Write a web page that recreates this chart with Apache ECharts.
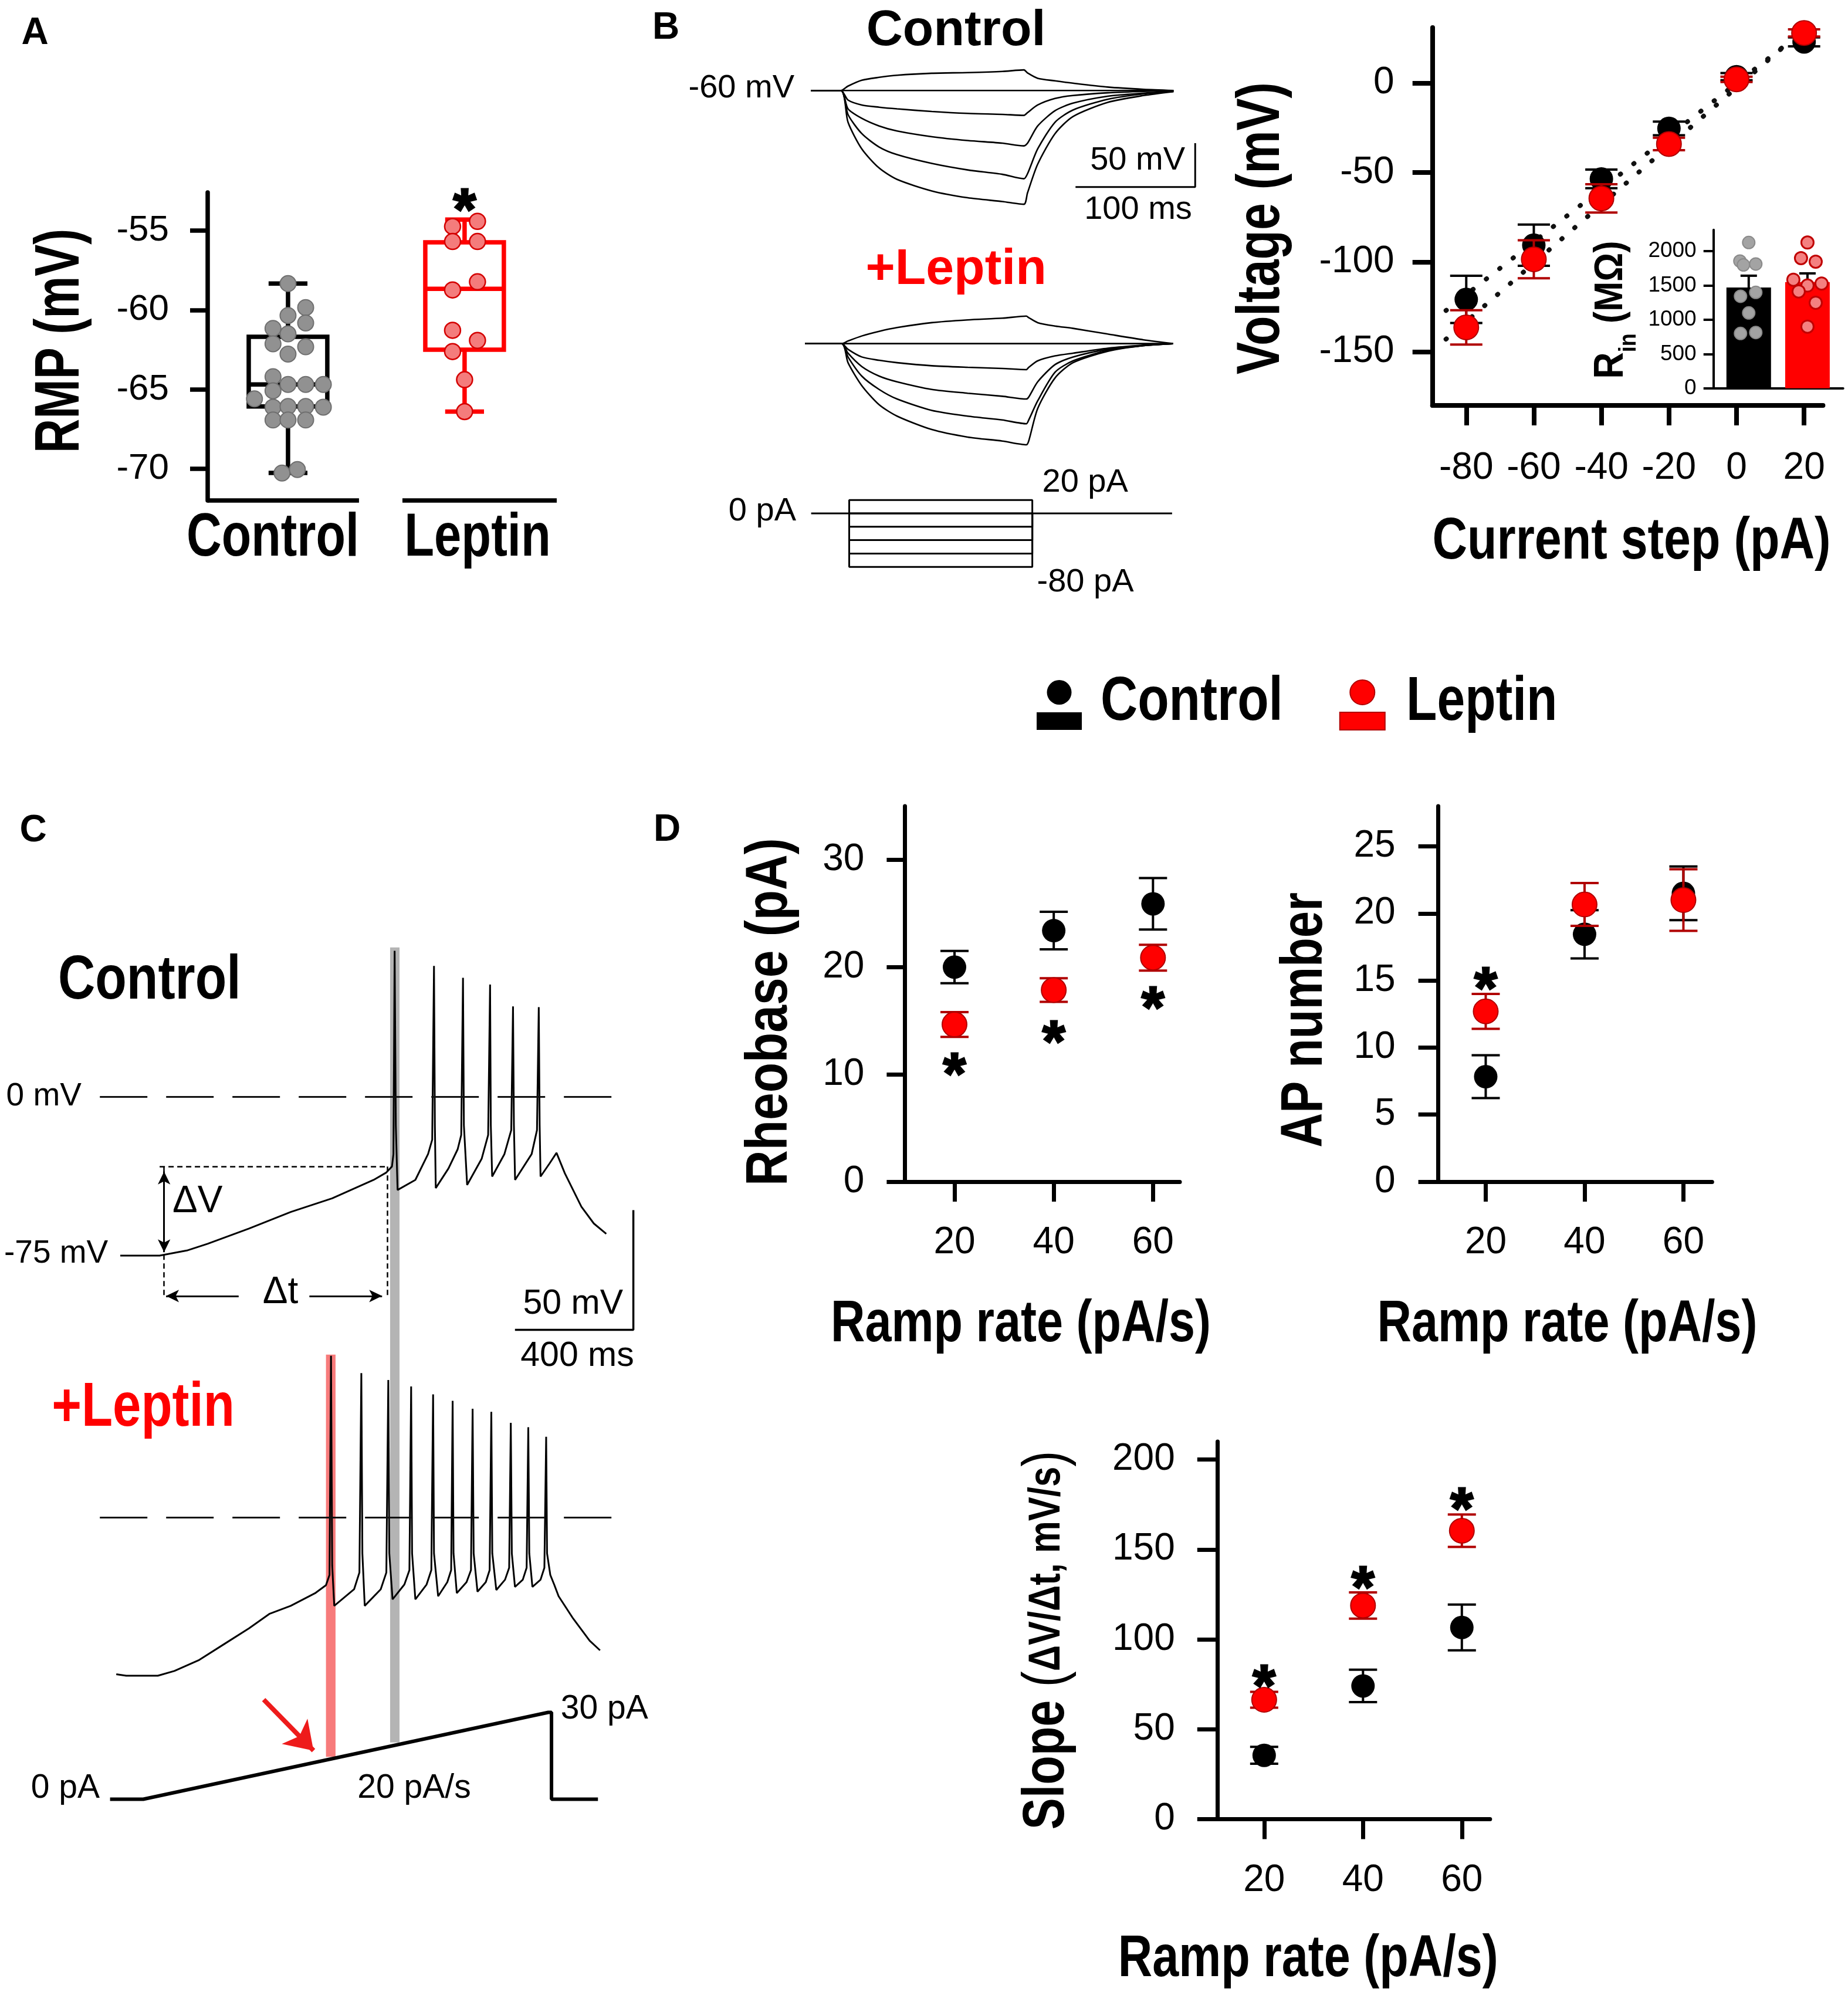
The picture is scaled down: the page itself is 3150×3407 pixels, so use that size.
<!DOCTYPE html>
<html><head><meta charset="utf-8">
<script src="https://cdn.jsdelivr.net/npm/echarts@6/dist/echarts.min.js"></script>
<style>html,body{margin:0;padding:0;background:#fff}#c{width:3150px;height:3407px}</style>
</head><body><div id="c"></div>
<script>
const SANS = '"Liberation Sans", Arial, Helvetica, sans-serif';
const RED = '#ff0000', DARKRED = '#b00000';

// ---------------- Panel A : RMP ----------------
const rmpCategories = ['Control', 'Leptin'];
const rmpBoxControl = [-70.26, -66.08, -64.69, -61.69, -58.34]; // min, Q1, median, Q3, max
const rmpBoxLeptin = [-66.4, -62.5, -58.67, -55.74, -54.31];
const rmpControl = [-58.34,-59.85,-60.35,-60.82,-61.16,-61.51,-62.13,-62.32,-62.78,-64.2,-65.09,-64.69,-64.69,-64.69,-65.6,-66.12,-66.08,-66.08,-66.12,-66.93,-66.93,-66.93,-70.27,-70.05];
const rmpControlJitter = [0,0.1,0,0.1,-0.085,0,-0.085,0.1,0,-0.085,-0.085,0,0.1,0.2,-0.19,-0.085,0,0.1,0.2,-0.085,0,0.1,-0.034,0.053];
const rmpLeptin = [-54.42,-54.74,-55.69,-55.69,-58.23,-58.74,-61.28,-61.92,-62.62,-64.39,-66.4];
const rmpLeptinJitter = [0.073,-0.068,-0.068,0.073,0.073,-0.068,-0.068,0.073,-0.068,0,0];
const rmpSignificance = [[1, -53.08]];

// ---------------- Panel B : sample traces ----------------
const bTimeControl = [0, 25, 31, 42.5, 57, 72, 101, 131, 160, 178, 181, 189.5, 204, 219, 248, 278, 303];
const bControlP20 = [0, 0, 5, 11.7, 15, 17.4, 19.6, 20.4, 21.7, 23.5, 20, 13.9, 11, 8.3, 3.9, 1.3, 0];
const bControl0   = [0, 0, 0, 0, 0, 0, 0, 0, 0, 0, 0, 0, 0, 0, 0, 0, 0];
const bControlM20 = [0, 0, -10.9, -16.5, -19, -20.9, -23.9, -26.1, -27.2, -28.3, -25.2, -16.5, -9.1, -5.7, -2.6, -1, 0];
const bControlM40 = [0, 0, -20.9, -31.7, -40.4, -46.1, -52.6, -57, -60, -63.1, -60, -40.4, -23, -14.4, -6.5, -3, -0.9];
const bControlM60 = [0, 0, -27.4, -49.1, -64.4, -73.1, -83.1, -90.5, -95.5, -100.5, -94.8, -66.5, -36.1, -22.2, -10, -3.9, -0.9];
const bControlM80 = [0, 0, -36.1, -66.5, -88.3, -101.3, -114.4, -122.2, -126.5, -129.6, -116.6, -83.9, -49.1, -29.6, -13.5, -5.7, -1.3];
const bTimeLeptin = [-5, 25.7, 31, 42.5, 57, 72, 101, 131, 160, 180, 182, 189.5, 204, 219, 248, 278, 302.5];
const bLeptinP20 = [0, 0, 3, 8.7, 14, 18.3, 23.9, 27, 29, 31.3, 29.6, 23.9, 20, 17.4, 10.9, 4.3, 0];
const bLeptin0   = [0, 0, 0, 0, 0, 0, 0, 0, 0, 0, 0, 0, 0, 0, 0, 0, 0];
const bLeptinM20 = [0, 0, -6.5, -15.2, -19, -21.7, -25.2, -27, -28.3, -29.6, -27, -19.6, -14, -10.9, -5.2, -1.7, 0];
const bLeptinM40 = [0, 0, -10.9, -26.1, -37, -43.5, -52.2, -56.5, -60, -63.1, -60.9, -43.5, -23.9, -15.2, -6.5, -2.2, 0];
const bLeptinM60 = [0, 0, -15.2, -37, -52.2, -63.1, -76.1, -82.6, -87, -91.3, -87, -65.2, -32.6, -19.6, -7.8, -2.2, 0];
const bLeptinM80 = [0, 0, -21.7, -47.8, -69.6, -82.6, -97.9, -106.5, -111, -115.2, -110.9, -73.9, -39.1, -21.7, -8.7, -2.2, 0];
const bStepLevels = [20, 0, -20, -40, -60, -80];   // pA
const bStepOnOff = [32, 185];                       // ms
const bProtocolSpan = [0.2, 301.8];                 // ms
const bScaleBar = [100, 50];                        // ms, mV

// ---------------- Panel B : I-V and R_in ----------------
const ivSteps = [-80, -60, -40, -20, 0, 20];
const ivControlMean = [-120.8, -90.5, -53.5, -25.3, 3.6, 23];
const ivControlSem = [13.2, 11.5, 5.2, 3.8, 2, 2.5];
const ivLeptinMean = [-136.4, -98.4, -64.4, -34, 2.1, 28];
const ivLeptinSem = [9.6, 10.6, 7.9, 3.5, 1.5, 2];
const ivFitControl = [[-86, -127], [15, 22]];
const ivFitLeptin = [[-86, -143], [15, 22]];
const rinGroups = ['Control', 'Leptin'];
const rinMean = [1471, 1551];
const rinSem = [172, 126];
const rinControl = [2128, 1857, 1800, 1814, 1343, 1400, 1100, 800, 814];
const rinControlJitter = [0, -0.15, -0.09, 0.12, -0.14, 0.12, 0, -0.14, 0.12];
const rinLeptin = [2128, 1900, 1848, 1585, 1500, 1529, 1414, 1249, 900];
const rinLeptinJitter = [0, -0.11, 0.14, -0.24, 0, 0.24, -0.15, 0.14, 0];

// ---------------- Panel C : ramp traces ----------------
const cControlTrace = [[0,-66.4],[133,-66.4],[225,-64.3],[295,-61.5],[435,-55.1],[576,-48.2],[716,-42.5],[856,-34.8],[899,-31.7],[918,-29.2],[923,-24],[927,60.9],[931,-12],[937,-39],[997,-34.8],[1040,-24],[1054,-18],[1060,54.6],[1063,-12],[1066,-38.2],[1109,-30],[1140,-22],[1152,-16],[1158,49.6],[1161,-12],[1172,-36.9],[1221,-26],[1243,-16],[1249.5,46.8],[1252,-12],[1256.5,-33.4],[1298,-24],[1321,-14],[1327,37.7],[1330,-12],[1334,-34.8],[1390,-24],[1408,-14],[1414,37.4],[1417,-12],[1420,-33.4],[1450,-28],[1474,-23.5],[1502,-32],[1558,-46],[1600,-53],[1642,-57.3]];
const cLeptinTrace = [[-13.5,-65.5],[20,-66.1],[127,-66.1],[183,-64.1],[267,-59.5],[351,-52.9],[435,-46.3],[505,-40.2],[576,-36.9],[660,-31.5],[695,-28.3],[707,-24],[712,67.5],[716,-20],[723,-36.9],[790,-30],[808,-23],[814.5,60.3],[818,-15],[826,-36.9],[880,-30],[899,-23],[905.6,57.4],[909,-15],[920,-34.2],[960,-28],[977,-22],[982.8,54.7],[986,-15],[997,-34.2],[1035,-28],[1051,-22],[1057,51.4],[1060,-15],[1074,-32.9],[1105,-27],[1118,-22],[1123,48.7],[1126,-15],[1137,-31.6],[1170,-27],[1185,-22],[1190.5,45.4],[1194,-15],[1207,-31],[1235,-27],[1248,-22],[1253.7,44.1],[1257,-15],[1270.5,-30.3],[1300,-26],[1314,-21],[1319.5,39.5],[1323,-15],[1333.6,-29],[1360,-26],[1373,-21],[1378.6,37.7],[1382,-15],[1392.5,-29],[1420,-26],[1433,-21],[1439,33.7],[1442,-15],[1453,-24],[1466,-28],[1481,-32.9],[1530,-42.2],[1586,-51.5],[1621,-55.5]];
const cRamp = [[-34.5,0],[77.7,0],[1446,30],[1457,30],[1457,0],[1614,0]];
const cScaleBar = [400, 50];   // ms, mV
const cThresholdControl = [911.7, 943.5];  // ms window (grey)
const cThresholdLeptin = [695, 727.3];     // ms window (red)

// ---------------- Panel D ----------------
const rampRates = [20, 40, 60];
const rheoControlMean = [20.0, 23.4, 25.9], rheoControlSem = [1.5, 1.75, 2.4];
const rheoLeptinMean = [14.65, 17.86, 20.88], rheoLeptinSem = [1.15, 1.1, 1.2];
const apControlMean = [7.83, 18.45, 21.5], apControlSem = [1.6, 1.8, 2.0];
const apLeptinMean = [12.7, 20.67, 21.0], apLeptinSem = [1.3, 1.6, 2.3];
const slopeControlMean = [35.5, 74.1, 106.6], slopeControlSem = [4.7, 9, 12.7];
const slopeLeptinMean = [66.4, 118.8, 160.4], slopeLeptinSem = [4.4, 7.3, 9];
const rheoSignificance = [[20, 10.9], [40, 13.9], [60, 17.1]];
const apSignificance = [[20, 15.1]];
const slopeSignificance = [[20, 79.2], [40, 134], [60, 177.7]];

// ================= helpers =================
const pairs = (xs, ys) => xs.map((x, i) => [x, ys[i]]);
function errBars(gi, xs, means, sems, color, cap, lw, z) {
  return {type:'custom', name:'err', xAxisIndex:gi, yAxisIndex:gi, z, silent:true, animation:false,
    data: xs.map((x,i)=>[x, means[i], sems[i]]), encode:{x:0, y:1},
    renderItem(params, api){
      const x=api.value(0), m=api.value(1), s=api.value(2);
      const t=api.coord([x,m+s]), b=api.coord([x,m-s]);
      const st={stroke:color, lineWidth:lw};
      return {type:'group', children:[
        {type:'line', shape:{x1:t[0],y1:t[1],x2:b[0],y2:b[1]}, style:st},
        {type:'line', shape:{x1:t[0]-cap/2,y1:t[1],x2:t[0]+cap/2,y2:t[1]}, style:st},
        {type:'line', shape:{x1:b[0]-cap/2,y1:b[1],x2:b[0]+cap/2,y2:b[1]}, style:st}]};
    }};
}
function dots(name, gi, xs, ys, size, color, border, bw, z) {
  return {type:'scatter', name, xAxisIndex:gi, yAxisIndex:gi, z, silent:true, animation:false,
    data: pairs(xs, ys), symbol:'circle', symbolSize:size,
    itemStyle:{color, borderColor:border, borderWidth:bw, opacity:1}};
}
function stars(gi, pts, size) {
  return {type:'custom', name:'sig', xAxisIndex:gi, yAxisIndex:gi, z:10, silent:true, animation:false,
    data: pts, encode:{x:0, y:1},
    renderItem(params, api){
      const p = api.coord([api.value(0), api.value(1)]);
      return {type:'text', x:p[0], y:p[1] + size*0.22, style:{text:'*', fontSize:size, fontFamily:SANS, fontWeight:'bold',
        fill:'#000', stroke:'#000', lineWidth:3, align:'center', verticalAlign:'middle'}};
    }};
}
function trace(gi, data, width, smooth, extra) {
  return Object.assign({type:'line', name:'trace', xAxisIndex:gi, yAxisIndex:gi, data, symbol:'none', showSymbol:false,
    silent:true, animation:false, smooth: smooth||false, clip:false, lineStyle:{color:'#000', width: width||2.5}, z:3}, extra||{});
}
function hiddenAxis(gi, min, max) { return {gridIndex:gi, type:'value', min, max, show:false}; }
function xAxisShown(gi, min, max, ticks, o) {
  return {gridIndex:gi, type:'value', min, max, splitLine:{show:false},
    axisLine:{show:true, onZero:false, lineStyle:{color:'#000', width:o.lw}},
    axisTick:{show:true, customValues:ticks, length:o.tick, lineStyle:{color:'#000', width:o.lw}},
    axisLabel:{show:true, customValues:ticks, fontFamily:SANS, fontSize:o.fs, color:'#000', margin:o.margin, formatter: v => String(v)}};
}
function yAxisShown(gi, min, max, ticks, o) {
  return {gridIndex:gi, type:'value', min, max, splitLine:{show:false},
    axisLine:{show:true, onZero:false, lineStyle:{color:'#000', width:o.lw}},
    axisTick:{show:true, customValues:ticks, length:o.tick, lineStyle:{color:'#000', width:o.lw}},
    axisLabel:{show:true, customValues:ticks, fontFamily:SANS, fontSize:o.fs, color:'#000', margin:o.margin, formatter: v => String(v)}};
}
function T(x, y, text, size, o) {
  o = o || {};
  return {type:'text', x, y, z:100, silent:true, style:{text, fontSize:size, fontFamily:SANS,
    fontWeight:o.bold?'bold':'normal', fill:o.color||'#000', align:o.align||'center', verticalAlign:'middle'}};
}
// condensed bold title text (horizontally compressed Liberation Sans Bold)
const ROT = Math.PI / 2;
function TN(x, y, text, size, o) {
  o = o || {};
  const st = {text, fontSize:size, fontFamily:SANS, fontWeight:'bold', fill:o.color||'#000', align:o.align||'center', verticalAlign:'middle'};
  if (o.rich) st.rich = o.rich;
  return {type:'text', x, y, rotation:o.rot||0, scaleX:o.sx||0.81, scaleY:1, z:100, silent:true, style:st};
}

// ================= grids =================
const gridBoxes = [
  [354, 328, 595, 525],        // 0 A
  [1370, 94.4, 685.4, 269.3],  // 1 B control traces
  [1370, 525.8, 685.4, 269.3], // 2 B leptin traces
  [1370, 829.4, 685.4, 159.6], // 3 B protocol
  [2441.7, 47, 665.7, 644],    // 4 B I-V
  [2920.7, 391.7, 221, 270],   // 5 B R_in inset
  [170.2, 1603.8, 922.7, 693.6], // 6 C control
  [170.2, 2296.6, 922.7, 697.7], // 7 C leptin
  [170.2, 2888.9, 922.7, 187.5], // 8 C ramp
  [1542.4, 1374, 468.6, 640],  // 9 D rheobase
  [2451.6, 1374, 466.7, 640],  // 10 D AP number
  [2074.8, 2456.9, 465, 643.6] // 11 D slope
];
const grid = gridBoxes.map(b => ({left:b[0], top:b[1], width:b[2], height:b[3], show:false, containLabel:false, outerBoundsMode:'none'}));

const xAxis = [
  {gridIndex:0, type:'value', min:-0.455, max:1.522, splitLine:{show:false}, axisLine:{show:false, onZero:false}, axisTick:{show:false}, axisLabel:{show:false}},
  hiddenAxis(1, -6, 330), hiddenAxis(2, -6, 330), hiddenAxis(3, -6, 330),
  xAxisShown(4, -90, 25.6, ivSteps, {lw:8, tick:34, fs:64, margin:75}),
  {gridIndex:5, type:'value', min:0.4, max:2.607, splitLine:{show:false}, axisLine:{show:true, onZero:false, lineStyle:{color:'#000', width:4}}, axisTick:{show:false}, axisLabel:{show:false}},
  hiddenAxis(6, -69, 1760), hiddenAxis(7, -69, 1760), hiddenAxis(8, -69, 1760),
  xAxisShown(9, 10, 65.4, rampRates, {lw:7, tick:34, fs:64, margin:72}),
  xAxisShown(10, 10.4, 65.8, rampRates, {lw:7, tick:34, fs:64, margin:72}),
  xAxisShown(11, 10.5, 65.7, rampRates, {lw:7, tick:34, fs:64, margin:73})
];
const yAxis = [
  yAxisShown(0, -72, -52.6, [-70,-65,-60,-55], {lw:7.5, tick:30, fs:62, margin:66}),
  hiddenAxis(1, -140, 40), hiddenAxis(2, -140, 40), hiddenAxis(3, -100, 40),
  yAxisShown(4, -180, 31, [-150,-100,-50,0], {lw:8, tick:34, fs:64, margin:65}),
  yAxisShown(5, 0, 2313, [0,500,1000,1500,2000], {lw:4, tick:17, fs:37, margin:29}),
  hiddenAxis(6, -105, 65), hiddenAxis(7, -100, 71), hiddenAxis(8, -2, 36),
  yAxisShown(9, 0, 35, [0,10,20,30], {lw:7, tick:31, fs:64, margin:69}),
  yAxisShown(10, 0, 28, [0,5,10,15,20,25], {lw:7, tick:34, fs:64, margin:73}),
  yAxisShown(11, 0, 210, [0,50,100,150,200], {lw:7, tick:34, fs:64, margin:72})
];

// ================= series =================
const series = [];
// ---- IV ----
series.push(trace(4, ivFitControl, 8, false, {lineStyle:{color:'#111', width:8, type:[1,28], cap:'round'}, z:2}));
series.push(trace(4, ivFitLeptin, 8, false, {lineStyle:{color:'#111', width:8, type:[1,28], cap:'round'}, z:2}));
series.push(errBars(4, ivSteps, ivControlMean, ivControlSem, '#000', 55, 4, 3));
series.push(dots('Control', 4, ivSteps, ivControlMean, 40, '#000', '#000', 0, 4));
series.push(errBars(4, ivSteps, ivLeptinMean, ivLeptinSem, DARKRED, 55, 4, 5));
series.push(dots('Leptin', 4, ivSteps, ivLeptinMean, 42, RED, DARKRED, 2, 6));

// ---- A ----
series.push(trace(0, [[-0.455, -72], [0.402, -72]], 7.5, false, {z:2}));
series.push(trace(0, [[0.648, -72], [1.522, -72]], 7.5, false, {z:2}));
series.push({type:'custom', name:'rmpBox', xAxisIndex:0, yAxisIndex:0, z:2, silent:true, animation:false,
  data:[[0].concat(rmpBoxControl), [1].concat(rmpBoxLeptin)], encode:{x:0, y:[1,2,3,4,5]},
  renderItem(params, api){
    const x = api.value(0), c = x === 0 ? '#000' : RED;
    const p = k => api.coord([x, api.value(k)]);
    const lo=p(1), q1=p(2), med=p(3), q3=p(4), hi=p(5);
    const bw = api.size([0.445, 0])[0], cw = api.size([0.22, 0])[0], cx = lo[0];
    const st = {stroke:c, lineWidth:7.5, fill:'none'};
    const L = (x1,y1,x2,y2) => ({type:'line', shape:{x1,y1,x2,y2}, style:st});
    return {type:'group', children:[
      L(cx, q3[1], cx, hi[1]), L(cx, q1[1], cx, lo[1]),
      L(cx-cw/2, hi[1], cx+cw/2, hi[1]), L(cx-cw/2, lo[1], cx+cw/2, lo[1]),
      {type:'rect', shape:{x:cx-bw/2, y:q3[1], width:bw, height:q1[1]-q3[1]}, style:st},
      L(cx-bw/2, med[1], cx+bw/2, med[1])]};
  }});
series.push(dots('rmpC', 0, rmpControlJitter.map(j => 0 + j), rmpControl, 27, '#919191', '#6f6f6f', 2, 5));
series.push(dots('rmpL', 0, rmpLeptinJitter.map(j => 1 + j), rmpLeptin, 27, '#f47c7c', '#d40000', 2.5, 5));
series.push(stars(0, rmpSignificance, 100));

// ---- B traces ----
[bControlP20, bControl0, bControlM20, bControlM40, bControlM60, bControlM80].forEach(v =>
  series.push(trace(1, pairs(bTimeControl, v), 2.6, 0.25)));
[bLeptinP20, bLeptin0, bLeptinM20, bLeptinM40, bLeptinM60, bLeptinM80].forEach(v =>
  series.push(trace(2, pairs(bTimeLeptin, v), 2.6, 0.25)));
series.push(trace(1, [[221.1, -110], [221.1 + bScaleBar[0], -110], [221.1 + bScaleBar[0], -110 + bScaleBar[1]]], 3));
series.push(trace(3, [[bProtocolSpan[0], 0], [bProtocolSpan[1], 0]], 3));
bStepLevels.forEach(L => series.push(trace(3, [[bStepOnOff[0], 0], [bStepOnOff[0], L], [bStepOnOff[1], L], [bStepOnOff[1], 0]], 3)));

// ---- inset R_in ----
series.push(errBars(5, [1, 2], rinMean, rinSem, '#000', 28, 4, 1));
series.push({type:'bar', name:'rin', xAxisIndex:5, yAxisIndex:5, barWidth:76, z:2, silent:true, animation:false,
  data: rinGroups.map((g, i) => ({value:[i + 1, rinMean[i]], itemStyle:{color: i ? RED : '#000'}}))});
series.push(dots('rinC', 5, rinControlJitter.map(j => 1 + j), rinControl, 21, '#a3a3a3', '#8a8a8a', 2, 4));
series.push(dots('rinL', 5, rinLeptinJitter.map(j => 2 + j), rinLeptin, 21, '#f48080', '#c00000', 3, 4));

// ---- C ----
const dash0 = {type:[81, 32], width:3, color:'#111'};
series.push(trace(6, cControlTrace, 3, false, {
  markArea:{silent:true, itemStyle:{color:'#b4b4b4', opacity:1},
    data:[[{xAxis:cThresholdControl[0], yAxis:62.3}, {xAxis:cThresholdControl[1], yAxis:-105}]]},
  markLine:{silent:true, animation:false, symbol:'none', label:{show:false},
    lineStyle:{color:'#000', width:2.5, type:[9, 6]}, itemStyle:{color:'#000'},
    data:[
      [{coord:[-69, 0], lineStyle:dash0}, {coord:[1677, 0]}],
      [{coord:[133, -29.2]}, {coord:[906, -29.2]}],
      [{coord:[148, -29.2]}, {coord:[148, -84]}],
      [{coord:[901.5, -29.2]}, {coord:[901.5, -84]}],
      [{coord:[148, -31.3], symbol:'arrow', symbolSize:[16, 22], lineStyle:{type:'solid', width:3, color:'#000'}}, {coord:[148, -65], symbol:'arrow', symbolSize:[16, 22]}],
      [{coord:[154.6, -83.3], symbol:'arrow', symbolSize:[16, 22], lineStyle:{type:'solid', width:3, color:'#000'}}, {coord:[400, -83.3], symbol:'none'}],
      [{coord:[639, -83.3], symbol:'none', lineStyle:{type:'solid', width:3, color:'#000'}}, {coord:[884.6, -83.3], symbol:'arrow', symbolSize:[16, 22]}]
    ]}}));
series.push(trace(6, [[1333.6, -97.4], [1333.6 + cScaleBar[0], -97.4], [1333.6 + cScaleBar[0], -97.4 + cScaleBar[1]]], 3.5));
series.push(trace(7, cLeptinTrace, 3, false, {
  markArea:{silent:true, itemStyle:{color:'#b4b4b4', opacity:1},
    data:[[{xAxis:cThresholdControl[0], yAxis:71}, {xAxis:cThresholdControl[1], yAxis:-94}],
          [{xAxis:cThresholdLeptin[0], yAxis:68, itemStyle:{color:'#f77b7b', opacity:1}}, {xAxis:cThresholdLeptin[1], yAxis:-100}]]},
  markLine:{silent:true, animation:false, symbol:'none', label:{show:false}, lineStyle:dash0, itemStyle:{color:'#111'},
    data:[[{coord:[-69, 0]}, {coord:[1677, 0]}]]}}));
series.push(trace(8, cRamp, 6, false, {
  markLine:{silent:true, animation:false, symbol:['none', 'arrow'], symbolSize:46, label:{show:false},
    lineStyle:{color:'#ee1b1b', width:8, type:'solid'}, itemStyle:{color:'#ee1b1b'},
    data:[[{coord:[484.6, 34.4]}, {coord:[653, 16.8]}]]}}));

// ---- D ----
function dPanel(gi, cm, cs, lm, ls, sig) {
  series.push(errBars(gi, rampRates, cm, cs, '#000', 48, 4, 3));
  series.push(dots('Control', gi, rampRates, cm, 40, '#000', '#000', 0, 4));
  series.push(errBars(gi, rampRates, lm, ls, DARKRED, 48, 4, 5));
  series.push(dots('Leptin', gi, rampRates, lm, 42, RED, DARKRED, 2, 6));
  series.push(stars(gi, sig, 100));
}
dPanel(9, rheoControlMean, rheoControlSem, rheoLeptinMean, rheoLeptinSem, rheoSignificance);
dPanel(10, apControlMean, apControlSem, apLeptinMean, apLeptinSem, apSignificance);
dPanel(11, slopeControlMean, slopeControlSem, slopeLeptinMean, slopeLeptinSem, slopeSignificance);

// ================= text =================
const graphic = [
  T(59.7, 57.8, 'A', 64, {bold:true}),
  T(1135, 48, 'B', 64, {bold:true}),
  T(56.6, 1416.8, 'C', 64, {bold:true}),
  T(1137, 1415.5, 'D', 64, {bold:true}),
  // panel A titles
  TN(104, 581, 'RMP (mV)', 108, {rot:ROT, sx:0.75}),
  TN(465, 918.5, rmpCategories[0], 104, {sx:0.795}),
  TN(814, 918.5, rmpCategories[1], 104, {sx:0.80}),
  // panel B traces
  T(1629.6, 53.7, 'Control', 86, {bold:true}),
  T(1629.6, 460, '+Leptin', 86, {bold:true, color:RED}),
  T(1354, 151, '-60 mV', 56, {align:'right'}),
  T(2020, 273.3, '50 mV', 56, {align:'right'}),
  T(1940, 357.8, '100 ms', 56),
  T(1357, 871.8, '0 pA', 56, {align:'right'}),
  T(1776.5, 823, '20 pA', 56, {align:'left'}),
  T(1767.5, 992.2, '-80 pA', 56, {align:'left'}),
  // panel B IV titles
  TN(2781, 924, 'Current step (pA)', 100, {sx:0.826}),
  TN(2151, 389, 'Voltage (mV)', 104, {rot:ROT, sx:0.793}),
  TN(2746.7, 528, '{r|R}{s|in}{m| (MΩ)}', 66, {rot:ROT, sx:0.9, rich:{
      r:{fontFamily:SANS, fontWeight:'bold', fontSize:70, lineHeight:100, verticalAlign:'middle', fill:'#000'},
      s:{fontFamily:SANS, fontWeight:'bold', fontSize:40, lineHeight:44, verticalAlign:'bottom', fill:'#000'},
      m:{fontFamily:SANS, fontWeight:'bold', fontSize:68, lineHeight:100, verticalAlign:'middle', fill:'#000'}}}),
  // legend labels
  TN(1876, 1198, 'Control', 106, {align:'left', sx:0.825}),
  TN(2397, 1198, 'Leptin', 106, {align:'left', sx:0.81}),
  // panel C
  TN(254.8, 1672.3, 'Control', 106, {sx:0.827}),
  TN(244, 2401, '+Leptin', 106, {sx:0.82, color:RED}),
  T(10.6, 1869, '0 mV', 55, {align:'left'}),
  T(7, 2137, '-75 mV', 55, {align:'left'}),
  T(294, 2048, 'ΔV', 64, {align:'left'}),
  T(478, 2203, 'Δt', 64),
  T(1062, 2223, '50 mV', 59, {align:'right'}),
  T(984, 2311.5, '400 ms', 59),
  T(170, 3048.6, '0 pA', 57, {align:'right'}),
  T(955.7, 2913, '30 pA', 57, {align:'left'}),
  T(706, 3048.6, '20 pA/s', 57),
  // panel D titles
  TN(1313.5, 1724.6, 'Rheobase (pA)', 100, {rot:ROT, sx:0.84}),
  TN(1740, 2258, 'Ramp rate (pA/s)', 100, {sx:0.81}),
  TN(2225, 1738.5, 'AP number', 100, {rot:ROT, sx:0.815}),
  TN(2671.5, 2258, 'Ramp rate (pA/s)', 100, {sx:0.81}),
  TN(2229.7, 3340, 'Ramp rate (pA/s)', 100, {sx:0.81}),
  TN(1785, 2795.6, '{b|Slope }{p|(}{s|ΔV/Δt, mV/s}{p|)}', 100, {rot:ROT, sx:0.81, rich:{
      b:{fontFamily:SANS, fontWeight:'bold', fontSize:100, fill:'#000'},
      p:{fontFamily:SANS, fontWeight:'normal', fontSize:100, fill:'#000'},
      s:{fontFamily:SANS, fontWeight:'bold', fontSize:76, fill:'#000'}}})
];

const LEG_ICON = 'path://M17.5,21A21,21,0,1,0,59.5,21A21,21,0,1,0,17.5,21Z M0,55L77,55L77,85L0,85Z';
const option = {
  animation:false,
  backgroundColor:'#fff',
  textStyle:{fontFamily:SANS},
  grid, xAxis, yAxis, series, graphic,
  legend:{show:true, left:1762, top:1153, orient:'horizontal', itemWidth:77, itemHeight:85, itemGap:431, selectedMode:false,
    data:[{name:'Control', icon:LEG_ICON}, {name:'Leptin', icon:LEG_ICON}],
    formatter: () => ' ', textStyle:{fontSize:10, color:'#000'}}
};
const chart = echarts.init(document.getElementById('c'), null, {renderer:'canvas', width:3150, height:3407});
chart.setOption(option);
</script></body></html>
